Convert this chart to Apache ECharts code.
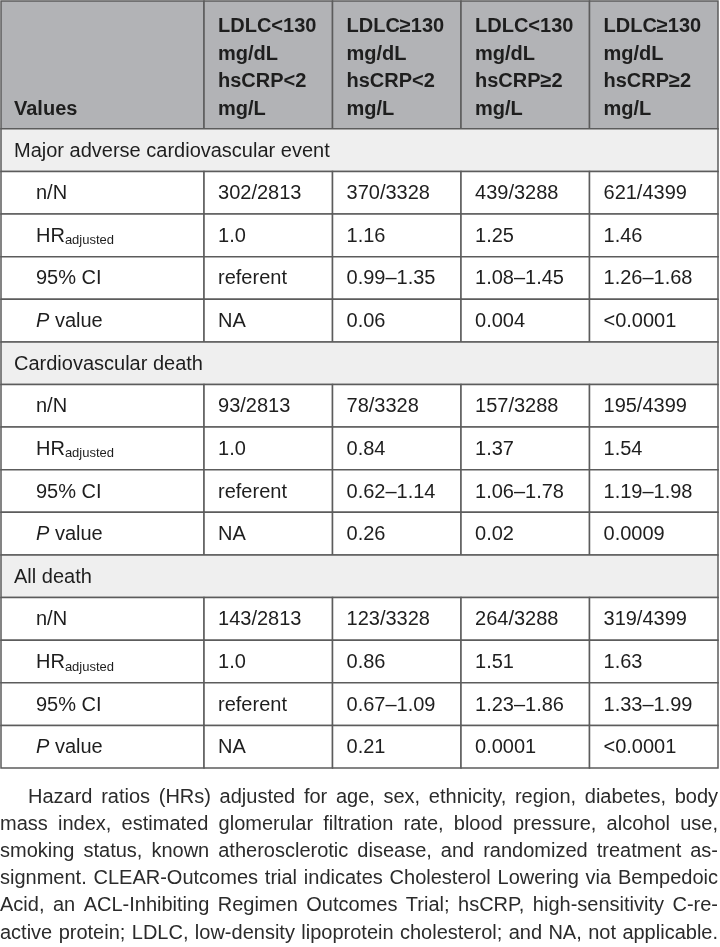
<!DOCTYPE html>
<html>
<head>
<meta charset="utf-8">
<title>CLEAR-Outcomes hazard ratios</title>
<script src="https://cdn.jsdelivr.net/npm/echarts@6.0.0/dist/echarts.min.js"></script>
<style>
  html, body { margin: 0; padding: 0; background: #fff; }
  #chart { width: 720px; height: 947px; }
</style>
</head>
<body>
<div id="chart"></div>
<script>
// table content
const columnHeaders = [
  "LDLC<130\nmg/dL\nhsCRP<2\nmg/L",
  "LDLC≥130\nmg/dL\nhsCRP<2\nmg/L",
  "LDLC<130\nmg/dL\nhsCRP≥2\nmg/L",
  "LDLC≥130\nmg/dL\nhsCRP≥2\nmg/L",
];
const firstHeader = "Values";
const sections = ["Major adverse cardiovascular event", "Cardiovascular death", "All death"];
const measures = ["n/N", "HR_adjusted", "95% CI", "P value"];

const maceValues = [
  ["302/2813", "370/3328", "439/3288", "621/4399"],
  ["1.0", "1.16", "1.25", "1.46"],
  ["referent", "0.99–1.35", "1.08–1.45", "1.26–1.68"],
  ["NA", "0.06", "0.004", "<0.0001"],
];
const cvDeathValues = [
  ["93/2813", "78/3328", "157/3288", "195/4399"],
  ["1.0", "0.84", "1.37", "1.54"],
  ["referent", "0.62–1.14", "1.06–1.78", "1.19–1.98"],
  ["NA", "0.26", "0.02", "0.0009"],
];
const allDeathValues = [
  ["143/2813", "123/3328", "264/3288", "319/4399"],
  ["1.0", "0.86", "1.51", "1.63"],
  ["referent", "0.67–1.09", "1.23–1.86", "1.33–1.99"],
  ["NA", "0.21", "0.0001", "<0.0001"],
];
const sectionValues = [maceValues, cvDeathValues, allDeathValues];

const footnoteLines = [
  "Hazard ratios (HRs) adjusted for age, sex, ethnicity, region, diabetes, body",
  "mass index, estimated glomerular filtration rate, blood pressure, alcohol use,",
  "smoking status, known atherosclerotic disease, and randomized treatment as-",
  "signment. CLEAR-Outcomes trial indicates Cholesterol Lowering via Bempedoic",
  "Acid, an ACL-Inhibiting Regimen Outcomes Trial; hsCRP, high-sensitivity C-re-",
  "active protein; LDLC, low-density lipoprotein cholesterol; and NA, not applicable.",
];

// layout: relative column widths, header takes 3 row units
const colWeights = [1.58, 1, 1, 1, 1];
const headerRows = 3;
const colEdges = colWeights.reduce((acc, w) => acc.concat(acc[acc.length - 1] + w), [0]);
const totalRows = headerRows + sections.length * (measures.length + 1);

const COLORS = {
  head: "#b2b3b6",
  section: "#efefef",
  cell: "#ffffff",
  border: "#5c5c5c",
  text: "#1e1e1e",
};
const FONT = "Liberation Sans";

// build cell list: [col, row, colSpan, rowSpan]
const cells = [];
cells.push({ value: [0, 0, 1, headerRows], kind: "head", text: firstHeader });
columnHeaders.forEach((h, i) => {
  cells.push({ value: [i + 1, 0, 1, headerRows], kind: "head", text: h });
});
sections.forEach((name, s) => {
  const start = headerRows + s * (measures.length + 1);
  cells.push({ value: [0, start, colWeights.length, 1], kind: "section", text: name });
  measures.forEach((m, mi) => {
    const row = start + 1 + mi;
    cells.push({ value: [0, row, 1, 1], kind: "label", text: m });
    sectionValues[s][mi].forEach((v, ci) => {
      cells.push({ value: [ci + 1, row, 1, 1], kind: "cell", text: v });
    });
  });
});

function labelText(t) {
  if (t === "HR_adjusted") return "{m|HR}{s|adjusted}";
  if (t === "P value") return "{i|P}{m| value}";
  return "{m|" + t + "}";
}

function renderItem(params, api) {
  const cell = cells[params.dataIndex];
  const col = api.value(0);
  const row = api.value(1);
  const colSpan = api.value(2);
  const rowSpan = api.value(3);
  const p0 = api.coord([colEdges[col], row]);
  const p1 = api.coord([colEdges[col + colSpan], row + rowSpan]);
  const w = p1[0] - p0[0];
  const h = p1[1] - p0[1];

  const fill = cell.kind === "head" ? COLORS.head : cell.kind === "section" ? COLORS.section : COLORS.cell;
  const children = [
    {
      type: "rect",
      shape: { x: p0[0], y: p0[1], width: w, height: h },
      style: { fill: fill, stroke: COLORS.border, lineWidth: 1.5 },
    },
  ];

  let textEl;
  if (cell.kind === "head") {
    textEl = {
      type: "text",
      x: p0[0] + (col === 0 ? 13 : 14),
      y: p1[1] - 6,
      style: {
        text: cell.text,
        fontFamily: FONT,
        fontWeight: "bold",
        fontSize: 20,
        lineHeight: 27.5,
        fill: COLORS.text,
        align: "left",
        verticalAlign: "bottom",
      },
    };
  } else if (cell.kind === "label") {
    textEl = {
      type: "text",
      x: p0[0] + 35,
      y: (p0[1] + p1[1]) / 2 + 1,
      style: {
        text: labelText(cell.text),
        align: "left",
        verticalAlign: "middle",
        rich: {
          m: { fontFamily: FONT, fontSize: 20, lineHeight: 22, fill: COLORS.text },
          i: { fontFamily: FONT, fontSize: 20, lineHeight: 22, fontStyle: "italic", fill: COLORS.text },
          s: { fontFamily: FONT, fontSize: 13, lineHeight: 1, verticalAlign: "bottom", fill: COLORS.text },
        },
      },
    };
  } else {
    textEl = {
      type: "text",
      x: p0[0] + (cell.kind === "section" ? 13 : 14),
      y: (p0[1] + p1[1]) / 2 + 1,
      style: {
        text: cell.text,
        fontFamily: FONT,
        fontSize: 20,
        fill: COLORS.text,
        align: "left",
        verticalAlign: "middle",
      },
    };
  }
  children.push(textEl);
  return { type: "group", children: children };
}

// justified footnote, one text element per word, squeezed so the tightest line still has normal spaces
function footnoteElements() {
  const size = 20;
  const minGap = 5.5;
  const right = 718;
  const top = 797;
  const pitch = 27.2;
  const ctx = document.createElement("canvas").getContext("2d");
  ctx.font = size + "px " + FONT;

  const measured = footnoteLines.map((line, i) => {
    const words = line.split(" ");
    const x0 = i === 0 ? 28 : 0;
    const raw = words.map((wd) => ctx.measureText(wd).width);
    return { words, x0, raw, total: raw.reduce((a, b) => a + b, 0) };
  });
  const squeeze = Math.min(
    1,
    ...measured.map((m) => (right - m.x0 - (m.words.length - 1) * minGap) / m.total)
  );

  const els = [];
  measured.forEach((m, i) => {
    const widths = m.raw.map((w) => w * squeeze);
    const gap = (right - m.x0 - m.total * squeeze) / (m.words.length - 1);
    let x = m.x0;
    m.words.forEach((wd, k) => {
      els.push({
        type: "text",
        x: x,
        y: top + i * pitch,
        scaleX: squeeze,
        silent: true,
        style: {
          text: wd,
          fontFamily: FONT,
          fontSize: size,
          fill: "#2b2b2b",
          align: "left",
          verticalAlign: "middle",
        },
      });
      x += widths[k] + gap;
    });
  });
  return els;
}

const chart = echarts.init(document.getElementById("chart"));
chart.setOption({
  animation: false,
  grid: { left: 1, top: 1, width: 717, height: 767 },
  xAxis: { type: "value", min: 0, max: colEdges[colEdges.length - 1], show: false },
  yAxis: { type: "value", min: 0, max: totalRows, inverse: true, show: false },
  series: [
    {
      type: "custom",
      renderItem: renderItem,
      encode: { x: 0, y: 1 },
      data: cells.map((c) => c.value),
      silent: true,
    },
  ],
  graphic: { elements: footnoteElements() },
});
</script>
</body>
</html>
